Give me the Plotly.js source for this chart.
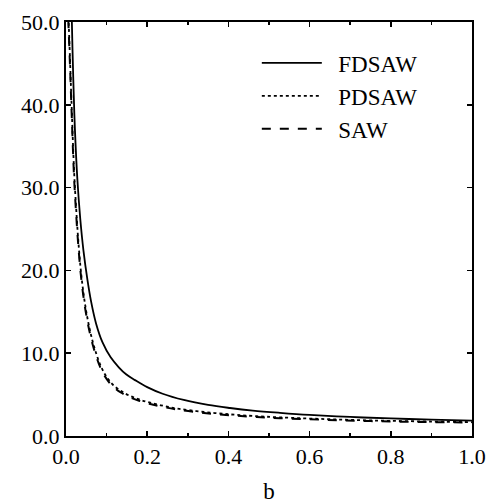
<!DOCTYPE html>
<html><head><meta charset="utf-8">
<script src="https://cdn.plot.ly/plotly-3.0.1.min.js"></script>
<style>body{margin:0;background:#fff}#c{width:486px;height:504px}</style>
</head><body><div id="c"></div>
<script>
const bFD = [0.012,0.014,0.018,0.022,0.028,0.035,0.043,0.053,0.062,0.074,0.09,0.11,0.13,0.148,0.17,0.2,0.238,0.29,0.35,0.404,0.46,0.527,0.6,0.7,0.8,0.9,1.0];
const fdsaw = [56.5,51,43,37,31,26.3,22.4,18.8,16.2,13.6,11.3,9.5,8.3,7.45,6.75,5.9,5.1,4.35,3.75,3.38,3.07,2.8,2.55,2.3,2.12,1.98,1.85];
const bS = [0.004,0.0057,0.01,0.014,0.0197,0.025,0.0303,0.038,0.05,0.066,0.086,0.1,0.115,0.135,0.156,0.18,0.205,0.24,0.279,0.34,0.404,0.46,0.527,0.64,0.75,0.87,1.0];
const pdsaw = [53.5,51.2,45.3,39.7,32.2,27.5,23.6,19.3,15.0,11.35,8.4,7.15,6.22,5.45,4.88,4.42,4.05,3.64,3.28,2.9,2.61,2.42,2.25,2.04,1.88,1.77,1.68];
const saw = [52.5,50.2,44.5,38.9,31.4,26.8,23.0,18.8,14.6,11.0,8.1,6.9,6.0,5.25,4.7,4.25,3.9,3.5,3.15,2.78,2.5,2.32,2.15,1.95,1.8,1.7,1.62];
const names = ['FDSAW','PDSAW','SAW'];

const font = {family:'Liberation Serif', color:'#000'};
const gap = '\u2002';
const traces = [
  {x:bFD, y:fdsaw, name:gap+names[0], mode:'lines', line:{color:'#000', width:1.8, dash:'solid', shape:'spline', smoothing:1}},
  {x:bS, y:pdsaw, name:gap+names[1], mode:'lines', line:{color:'#000', width:1.8, dash:'dot', shape:'spline', smoothing:1}},
  {x:bS, y:saw, name:gap+names[2], mode:'lines', line:{color:'#000', width:2, dash:'dash', shape:'spline', smoothing:1}}
];
const axisCommon = {showline:true, linecolor:'#000', linewidth:2, mirror:'ticks', ticks:'inside',
  ticklen:5, tickwidth:1.5, tickcolor:'#000', showgrid:false, zeroline:false,
  tickformat:'.1f', tickfont:Object.assign({size:22}, font)};
const layout = {
  width:486, height:504, margin:{l:66, r:14, t:22, b:68},
  paper_bgcolor:'#fff', plot_bgcolor:'#fff', font:font,
  xaxis:Object.assign({}, axisCommon, {range:[0,1], dtick:0.2, tick0:0,
    minor:{dtick:0.1, ticks:'inside', ticklen:3, tickcolor:'#000'},
    title:{text:'b', font:Object.assign({size:23}, font), standoff:16}}),
  yaxis:Object.assign({}, axisCommon, {range:[0,50], dtick:10, tick0:0}),
  showlegend:true,
  legend:{x:0.47, y:0.953, xanchor:'left', yanchor:'top', bgcolor:'rgba(0,0,0,0)',
    font:Object.assign({size:23}, font), itemwidth:60, tracegroupgap:0}
};
Plotly.newPlot('c', traces, layout, {displayModeBar:false, staticPlot:true});
</script></body></html>
